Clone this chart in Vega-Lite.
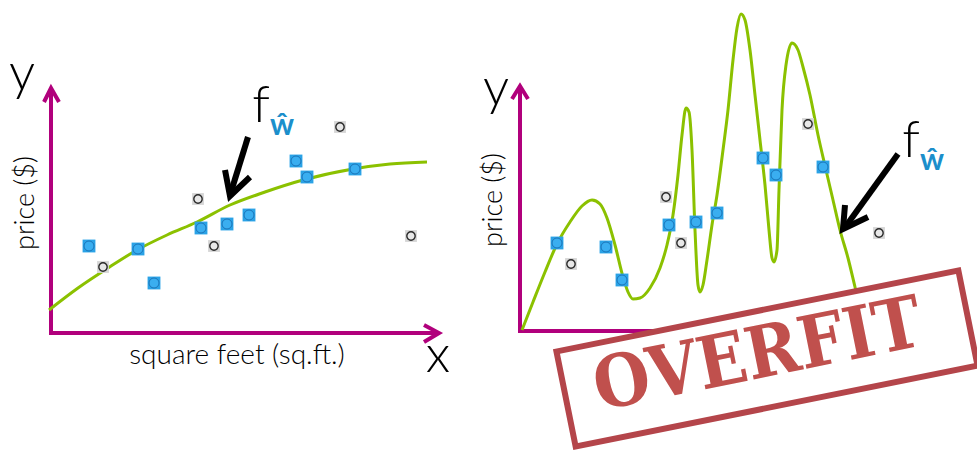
{
  "$schema": "https://vega.github.io/schema/vega-lite/v6.json",
  "width": 977,
  "height": 451,
  "autosize": "none",
  "padding": 0,
  "background": "white",
  "config": {"view": {"stroke": null}},
  "datasets": {
    "axes": [
      {"g": "ly", "o": 1, "x": 51, "y": 334}, {"g": "ly", "o": 2, "x": 51, "y": 88},
      {"g": "lyh", "o": 1, "x": 44, "y": 102}, {"g": "lyh", "o": 2, "x": 51, "y": 88}, {"g": "lyh", "o": 3, "x": 59, "y": 102},
      {"g": "lx", "o": 1, "x": 49, "y": 333}, {"g": "lx", "o": 2, "x": 439, "y": 333},
      {"g": "lxh", "o": 1, "x": 424, "y": 325}, {"g": "lxh", "o": 2, "x": 439, "y": 333}, {"g": "lxh", "o": 3, "x": 424, "y": 342},
      {"g": "ry", "o": 1, "x": 520, "y": 332}, {"g": "ry", "o": 2, "x": 520, "y": 86},
      {"g": "ryh", "o": 1, "x": 512, "y": 99}, {"g": "ryh", "o": 2, "x": 520, "y": 86}, {"g": "ryh", "o": 3, "x": 528, "y": 99},
      {"g": "rx", "o": 1, "x": 518, "y": 331}, {"g": "rx", "o": 2, "x": 720, "y": 331}
    ],
    "curves": [
      {"g": "L", "o": 1, "x": 49, "y": 310}, {"g": "L", "o": 2, "x": 78, "y": 288}, {"g": "L", "o": 3, "x": 108, "y": 268},
      {"g": "L", "o": 4, "x": 137, "y": 250}, {"g": "L", "o": 5, "x": 167, "y": 235}, {"g": "L", "o": 6, "x": 197, "y": 222},
      {"g": "L", "o": 7, "x": 230, "y": 205}, {"g": "L", "o": 8, "x": 265, "y": 192}, {"g": "L", "o": 9, "x": 303, "y": 180},
      {"g": "L", "o": 10, "x": 353, "y": 169}, {"g": "L", "o": 11, "x": 390, "y": 164}, {"g": "L", "o": 12, "x": 427, "y": 162},
      {"g": "R", "o": 1, "x": 522, "y": 330}, {"g": "R", "o": 2, "x": 533, "y": 302}, {"g": "R", "o": 3, "x": 545, "y": 272},
      {"g": "R", "o": 4, "x": 557, "y": 244}, {"g": "R", "o": 5, "x": 570, "y": 222}, {"g": "R", "o": 6, "x": 582, "y": 206},
      {"g": "R", "o": 7, "x": 592, "y": 200}, {"g": "R", "o": 8, "x": 600, "y": 204}, {"g": "R", "o": 9, "x": 607, "y": 218},
      {"g": "R", "o": 10, "x": 615, "y": 245}, {"g": "R", "o": 11, "x": 623, "y": 277}, {"g": "R", "o": 12, "x": 628, "y": 292},
      {"g": "R", "o": 13, "x": 633, "y": 299}, {"g": "R", "o": 14, "x": 640, "y": 298}, {"g": "R", "o": 15, "x": 650, "y": 288},
      {"g": "R", "o": 16, "x": 660, "y": 268}, {"g": "R", "o": 17, "x": 667, "y": 245}, {"g": "R", "o": 18, "x": 673, "y": 215},
      {"g": "R", "o": 19, "x": 678, "y": 175}, {"g": "R", "o": 20, "x": 682, "y": 135}, {"g": "R", "o": 21, "x": 686, "y": 108},
      {"g": "R", "o": 22, "x": 689, "y": 112}, {"g": "R", "o": 23, "x": 692, "y": 150}, {"g": "R", "o": 24, "x": 695, "y": 230},
      {"g": "R", "o": 25, "x": 698, "y": 285}, {"g": "R", "o": 26, "x": 700, "y": 292}, {"g": "R", "o": 27, "x": 703, "y": 285},
      {"g": "R", "o": 28, "x": 707, "y": 260}, {"g": "R", "o": 29, "x": 712, "y": 225}, {"g": "R", "o": 30, "x": 717, "y": 195},
      {"g": "R", "o": 31, "x": 723, "y": 150}, {"g": "R", "o": 32, "x": 728, "y": 110}, {"g": "R", "o": 33, "x": 733, "y": 60},
      {"g": "R", "o": 34, "x": 737, "y": 28}, {"g": "R", "o": 35, "x": 741, "y": 14}, {"g": "R", "o": 36, "x": 745, "y": 20},
      {"g": "R", "o": 37, "x": 750, "y": 50}, {"g": "R", "o": 38, "x": 755, "y": 95}, {"g": "R", "o": 39, "x": 760, "y": 140},
      {"g": "R", "o": 40, "x": 765, "y": 185}, {"g": "R", "o": 41, "x": 769, "y": 230}, {"g": "R", "o": 42, "x": 772, "y": 258},
      {"g": "R", "o": 43, "x": 774, "y": 262}, {"g": "R", "o": 44, "x": 777, "y": 250}, {"g": "R", "o": 45, "x": 779, "y": 190},
      {"g": "R", "o": 46, "x": 782, "y": 110}, {"g": "R", "o": 47, "x": 786, "y": 65}, {"g": "R", "o": 48, "x": 792, "y": 43},
      {"g": "R", "o": 49, "x": 798, "y": 50}, {"g": "R", "o": 50, "x": 803, "y": 67}, {"g": "R", "o": 51, "x": 810, "y": 95},
      {"g": "R", "o": 52, "x": 818, "y": 135}, {"g": "R", "o": 53, "x": 826, "y": 170}, {"g": "R", "o": 54, "x": 833, "y": 200},
      {"g": "R", "o": 55, "x": 840, "y": 230}, {"g": "R", "o": 56, "x": 848, "y": 258}, {"g": "R", "o": 57, "x": 855, "y": 287},
      {"g": "R", "o": 58, "x": 862, "y": 316}
    ],
    "blue": [
      {"x": 89, "y": 246}, {"x": 138, "y": 249}, {"x": 154, "y": 283}, {"x": 201, "y": 228}, {"x": 227, "y": 224},
      {"x": 249, "y": 215}, {"x": 296, "y": 161}, {"x": 307, "y": 177}, {"x": 355, "y": 169},
      {"x": 557, "y": 243}, {"x": 606, "y": 247}, {"x": 622, "y": 280}, {"x": 669, "y": 225}, {"x": 696, "y": 222},
      {"x": 717, "y": 213}, {"x": 763, "y": 158}, {"x": 776, "y": 175}, {"x": 823, "y": 167}
    ],
    "gray": [
      {"x": 103, "y": 267}, {"x": 198, "y": 199}, {"x": 214, "y": 246}, {"x": 340, "y": 127}, {"x": 411, "y": 236},
      {"x": 571, "y": 264}, {"x": 666, "y": 197}, {"x": 681, "y": 243}, {"x": 808, "y": 124}, {"x": 879, "y": 233}
    ],
    "arrows": [
      {"g": "ls", "o": 1, "x": 248, "y": 137}, {"g": "ls", "o": 2, "x": 231, "y": 192},
      {"g": "lh", "o": 1, "x": 225, "y": 170}, {"g": "lh", "o": 2, "x": 230, "y": 196}, {"g": "lh", "o": 3, "x": 250, "y": 177},
      {"g": "rs", "o": 1, "x": 898, "y": 154}, {"g": "rs", "o": 2, "x": 846, "y": 226},
      {"g": "rh", "o": 1, "x": 845, "y": 205}, {"g": "rh", "o": 2, "x": 843, "y": 229}, {"g": "rh", "o": 3, "x": 868, "y": 217}
    ]
  },
  "encoding": {
    "x": {"field": "x", "type": "quantitative", "scale": {"domain": [0, 977], "nice": false, "zero": false}, "axis": null},
    "y": {"field": "y", "type": "quantitative", "scale": {"domain": [0, 451], "nice": false, "zero": false, "reverse": true}, "axis": null}
  },
  "layer": [
    {
      "data": {"name": "axes"},
      "mark": {"type": "line", "color": "#b1007c", "strokeWidth": 4, "strokeCap": "butt", "strokeJoin": "miter"},
      "encoding": {"detail": {"field": "g"}, "order": {"field": "o"}}
    },
    {
      "data": {"name": "curves"},
      "mark": {"type": "line", "color": "#8bc100", "strokeWidth": 3, "interpolate": "monotone"},
      "encoding": {"detail": {"field": "g"}, "order": {"field": "o"}}
    },
    {
      "data": {"name": "blue"},
      "mark": {"type": "square", "size": 165, "color": "#2aa2e6", "opacity": 1}
    },
    {
      "data": {"name": "blue"},
      "mark": {"type": "point", "shape": "circle", "size": 100, "filled": true, "fill": "#3aaef0", "stroke": "#1b74b8", "strokeWidth": 1, "opacity": 1}
    },
    {
      "data": {"name": "gray"},
      "mark": {"type": "square", "size": 140, "color": "#d6d6d6", "opacity": 1}
    },
    {
      "data": {"name": "gray"},
      "mark": {"type": "point", "shape": "circle", "size": 70, "filled": true, "fill": "#e8e8e8", "stroke": "#2a2a2a", "strokeWidth": 1.4, "opacity": 1}
    },
    {
      "data": {"name": "arrows"},
      "mark": {"type": "line", "color": "black", "strokeWidth": 6, "strokeCap": "butt", "strokeJoin": "miter"},
      "encoding": {"detail": {"field": "g"}, "order": {"field": "o"}}
    },
    {
      "data": {"values": [{"x": 22, "y": 90, "t": "y"}, {"x": 496, "y": 105, "t": "y"}, {"x": 438, "y": 372, "t": "x"}, {"x": 261, "y": 122, "t": "f"}, {"x": 911, "y": 157, "t": "f"}]},
      "mark": {"type": "text", "font": "Lato", "fontWeight": 300, "fontSize": 52, "align": "center", "baseline": "alphabetic", "color": "black"},
      "encoding": {"text": {"field": "t"}}
    },
    {
      "data": {"values": [{"x": 282, "y": 135, "t": "ŵ"}, {"x": 932, "y": 170, "t": "ŵ"}]},
      "mark": {"type": "text", "font": "Lato", "fontWeight": "bold", "fontSize": 30, "align": "center", "baseline": "alphabetic", "color": "#1b8fcb"},
      "encoding": {"text": {"field": "t"}}
    },
    {
      "data": {"values": [{"x": 26, "y": 203, "t": "price ($)"}, {"x": 494, "y": 200, "t": "price ($)"}]},
      "mark": {"type": "text", "font": "Lato", "fontWeight": 300, "fontSize": 27, "angle": 270, "align": "center", "baseline": "middle", "color": "black"},
      "encoding": {"text": {"field": "t"}}
    },
    {
      "data": {"values": [{"x": 237, "y": 364, "t": "square feet (sq.ft.)"}]},
      "mark": {"type": "text", "font": "Lato", "fontWeight": 300, "fontSize": 28, "align": "center", "baseline": "alphabetic", "color": "black"},
      "encoding": {"text": {"field": "t"}}
    },
    {
      "data": {"values": [{"x": 767, "y": 358.5}]},
      "mark": {"type": "point", "shape": "M-1,-0.2366L1,-0.2366L1,0.2366L-1,0.2366Z", "size": 168100, "angle": 348.6, "filled": true, "fill": "white", "stroke": "#b4454a", "strokeWidth": 6, "opacity": 1, "fillOpacity": 1, "strokeOpacity": 1}
    },
    {
      "data": {"values": [{"x": 758, "y": 356, "t": "OVERFIT"}]},
      "mark": {"type": "text", "font": "DejaVu Serif Condensed, Liberation Serif", "fontWeight": "bold", "fontSize": 72, "angle": 348.6, "align": "center", "baseline": "middle", "color": "#c0504d"},
      "encoding": {"text": {"field": "t"}}
    }
  ]
}
